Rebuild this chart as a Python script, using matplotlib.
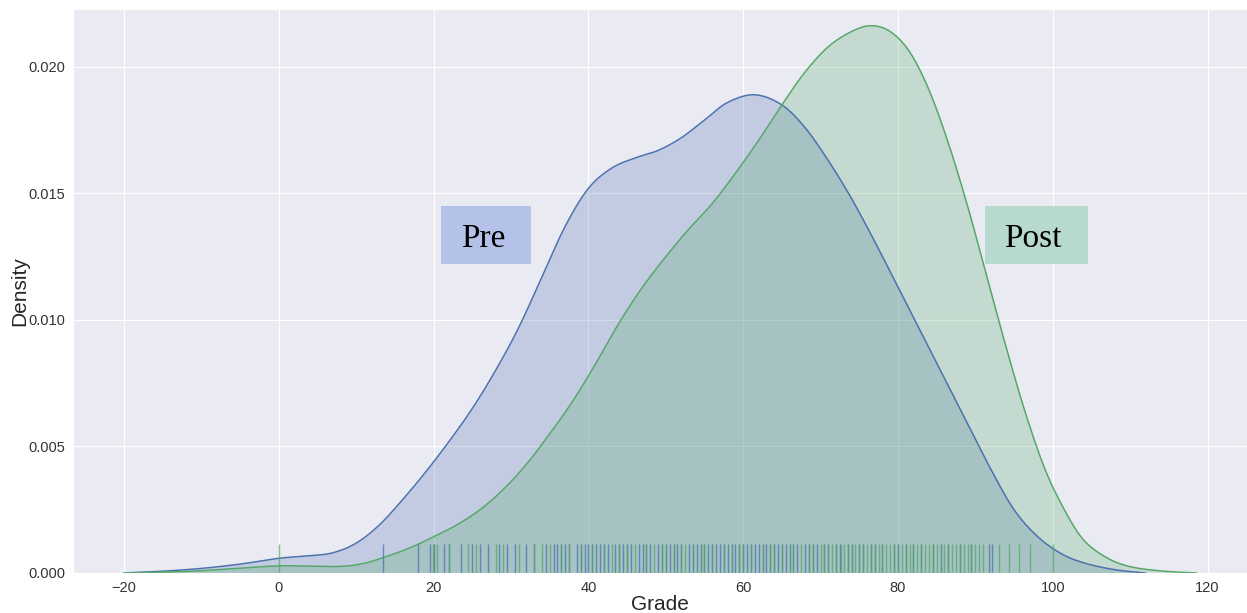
"""KDE of grades before and after, with rug marks and Pre/Post tags."""

import matplotlib
matplotlib.use("Agg")
import matplotlib.pyplot as plt
from matplotlib.patches import Rectangle
import numpy as np
import seaborn as sns

PRE_COLOR = "#4c72b0"
POST_COLOR = "#55a868"

# density curves (grade, density)
pre_x = [-20, -15, -10, -5, 0, 4, 7, 10, 13, 16, 19, 22, 25, 28, 31, 34, 37,
         40, 43, 46, 49, 52, 55, 58, 61.5, 65, 68, 71, 74, 77, 80, 83, 86,
         89, 92, 95, 98, 101, 104, 108, 112]
pre_y = [0.0, 0.00007, 0.00018, 0.00035, 0.00058, 0.00068, 0.0008, 0.00118,
         0.0019, 0.0029, 0.004, 0.0052, 0.0065, 0.008, 0.0097, 0.0117,
         0.0137, 0.0152, 0.016, 0.0164, 0.0167, 0.0172, 0.0179, 0.0186,
         0.0189, 0.0185, 0.0176, 0.0163, 0.0148, 0.0131, 0.0113, 0.0095,
         0.0077, 0.0059, 0.0041, 0.0025, 0.00145, 0.00078, 0.0004, 0.00013,
         0.0]

post_x = [-20, -15, -10, -5, 0, 4, 8, 11, 14, 17, 20, 23, 26, 29, 32, 35, 38,
          41, 44, 47, 50, 53, 56, 59, 62, 65, 68, 71, 74, 76.5, 79, 81.5, 84,
          86.5, 89, 91.5, 94, 96.5, 99, 101.5, 104, 107, 110, 114, 118.6]
post_y = [0.0, 0.00003, 0.00009, 0.00019, 0.00028, 0.00027, 0.00026, 0.00038,
          0.00066, 0.001, 0.00143, 0.0019, 0.0025, 0.0033, 0.0043, 0.0055,
          0.0068, 0.0083, 0.0099, 0.0113, 0.0125, 0.0136, 0.0146, 0.0158,
          0.0171, 0.0185, 0.0198, 0.0208, 0.0214, 0.02163, 0.0214, 0.0206,
          0.0191, 0.017, 0.0145, 0.0117, 0.0089, 0.0063, 0.0041, 0.0025,
          0.0013, 0.0006, 0.00025, 0.00008, 0.0]

# individual grades (rug marks)
pre_grades = [13.4, 18.0, 19.5, 20.0, 21.4, 22.0, 23.5, 25.0, 26.0, 27.0,
              28.5, 29.5, 30.5, 32.0, 33.0, 34.5, 35.5, 36.0, 36.5, 37.0,
              37.5, 38.5, 39.0, 39.5, 40.0, 40.5, 41.0, 41.5, 42.0, 42.5,
              43.5, 44.0, 44.5, 45.0, 45.5, 46.5, 47.0, 47.5, 48.0, 49.0,
              49.5, 50.0, 50.5, 51.0, 51.5, 52.0, 53.0, 53.5, 54.0, 54.5,
              55.0, 55.5, 56.0, 56.5, 57.0, 57.5, 58.0, 58.5, 59.0, 59.5,
              60.0, 60.5, 61.0, 61.5, 62.0, 62.5, 63.0, 63.5, 64.0, 64.5,
              65.0, 65.5, 66.0, 66.5, 67.0, 68.0, 68.5, 69.0, 69.5, 70.5,
              71.0, 72.0, 72.5, 73.5, 74.0, 75.0, 75.5, 76.5, 77.0, 78.0,
              79.5, 80.0, 81.0, 82.0, 83.0, 84.5, 85.5, 86.5, 88.0, 89.5,
              91.8, 92.2]
post_grades = [0.0, 19.9, 20.4, 22.0, 24.5, 25.5, 28.0, 29.0, 31.0, 33.0,
               34.0, 35.0, 36.5, 37.5, 39.0, 40.5, 42.0, 43.0, 44.0, 45.0,
               46.0, 47.5, 48.5, 49.5, 50.0, 51.0, 52.0, 52.5, 53.5, 54.5,
               55.0, 56.0, 57.5, 58.5, 59.5, 60.0, 61.0, 62.5, 63.5, 64.0,
               65.0, 66.0, 66.5, 67.5, 68.5, 69.0, 70.0, 70.5, 71.0, 71.5,
               72.0, 72.7, 73.0, 73.5, 74.0, 74.5, 75.0, 75.5, 76.0, 76.5,
               77.0, 77.5, 78.0, 78.5, 79.0, 79.5, 80.0, 80.5, 81.0, 81.5,
               82.0, 82.5, 83.0, 83.5, 84.0, 84.5, 85.0, 85.5, 86.0, 86.5,
               87.0, 87.5, 88.0, 88.5, 89.0, 89.5, 90.0, 90.5, 91.0, 93.0,
               94.3, 95.7, 97.1, 100.0]


def smooth_path(xs, ys, steps=12):
    """Catmull-Rom pass through the read points so the line draws smooth."""
    p = np.column_stack([xs, ys]).astype(float)
    p = np.vstack([p[0], p, p[-1]])
    t = np.linspace(0, 1, steps, endpoint=False)[:, None]
    out = []
    for i in range(1, len(p) - 2):
        p0, p1, p2, p3 = p[i - 1], p[i], p[i + 1], p[i + 2]
        seg = 0.5 * ((2 * p1) + (-p0 + p2) * t
                     + (2 * p0 - 5 * p1 + 4 * p2 - p3) * t ** 2
                     + (-p0 + 3 * p1 - 3 * p2 + p3) * t ** 3)
        out.append(seg)
    out.append(p[-2][None, :])
    out = np.vstack(out)
    return out[:, 0], np.clip(out[:, 1], 0, None)


sns.set_style("darkgrid")
plt.rcParams["font.family"] = ["Liberation Sans", "DejaVu Sans"]

fig = plt.figure(figsize=(12.47, 6.13), dpi=100)
ax = fig.add_axes([0.0585, 0.0653, 0.9415, 0.9208])

for xs, ys, col in [(pre_x, pre_y, PRE_COLOR), (post_x, post_y, POST_COLOR)]:
    sx, sy = smooth_path(xs, ys)
    ax.fill_between(sx, sy, 0, color=col, alpha=0.25, lw=0)
    ax.plot(sx, sy, color=col, lw=1.1)

trans = ax.get_xaxis_transform()
ax.vlines(pre_grades, 0, 0.051, transform=trans, color=PRE_COLOR, lw=1.0, alpha=0.75)
ax.vlines(post_grades, 0, 0.051, transform=trans, color=POST_COLOR, lw=1.0, alpha=0.75)

ax.set_xlim(-26.6, 125.1)
ax.set_ylim(0, 0.02231)
ax.set_xticks([-20, 0, 20, 40, 60, 80, 100, 120])
ax.set_yticks([0, 0.005, 0.010, 0.015, 0.020])
ax.set_yticklabels(["0.000", "0.005", "0.010", "0.015", "0.020"])
ax.tick_params(labelsize=10.5, colors="#333333", pad=2)
ax.set_xlabel("Grade", fontsize=15, labelpad=0)
ax.set_ylabel("Density", fontsize=15, labelpad=-1)

# tags
ax.add_patch(Rectangle((20.9, 0.01221), 11.7, 0.0023, color="#b4c2ea", lw=0, zorder=5))
ax.text(26.4, 0.01289, "Pre", family="Liberation Serif", fontsize=24,
        ha="center", va="baseline", color="black", zorder=6)
ax.add_patch(Rectangle((91.3, 0.01221), 13.2, 0.0023, color="#b8d9ce", lw=0, zorder=5))
ax.text(97.4, 0.01289, "Post", family="Liberation Serif", fontsize=24,
        ha="center", va="baseline", color="black", zorder=6)

plt.savefig("out.png", dpi=100)
plt.close()
